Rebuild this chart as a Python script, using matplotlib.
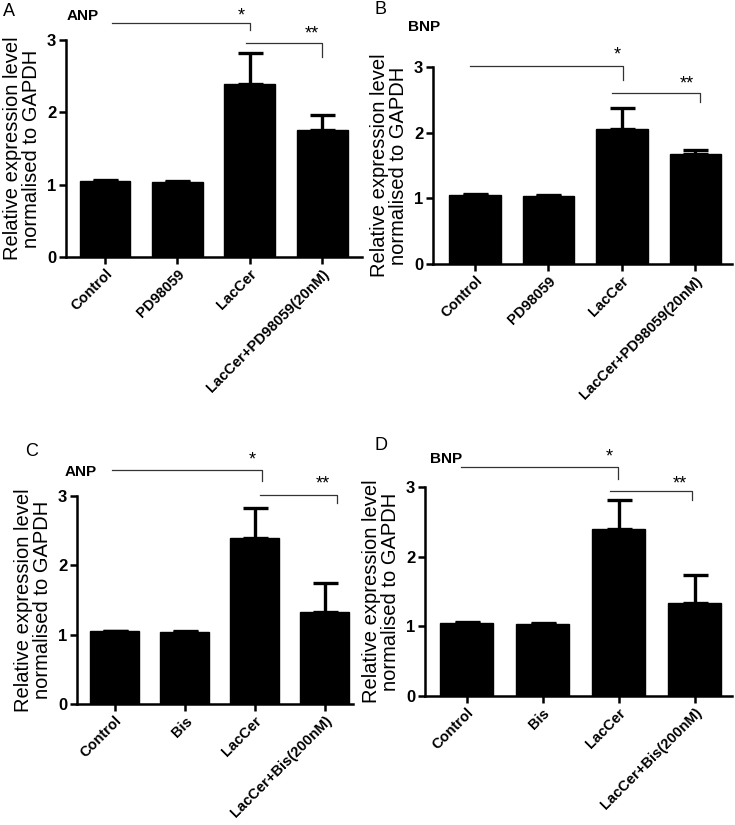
import matplotlib
matplotlib.use("Agg")
import matplotlib.pyplot as plt

plt.rcParams['font.family'] = ['Liberation Sans', 'DejaVu Sans']

# data
groups_pd = ['Control', 'PD98059', 'LacCer', 'LacCer+PD98059(20nM)']
groups_bis = ['Control', 'Bis', 'LacCer', 'LacCer+Bis(200nM)']

anp_pd = [1.05, 1.04, 2.39, 1.76]
anp_pd_err = [0.01, 0.01, 0.43, 0.20]
bnp_pd = [1.05, 1.04, 2.05, 1.68]
bnp_pd_err = [0.01, 0.01, 0.33, 0.05]
anp_bis = [1.05, 1.04, 2.40, 1.33]
anp_bis_err = [0.01, 0.01, 0.42, 0.42]
bnp_bis = [1.05, 1.04, 2.39, 1.33]
bnp_bis_err = [0.01, 0.01, 0.42, 0.41]

ylab = 'Relative expression level\nnormalised to GAPDH'

# panel layout: rect (px), xlim, letter pos (px), gene label pos (px), brackets
panels = [
    dict(rect=[66, 362, 40, 257], xlim=(-0.54, 3.55), names=groups_pd, vals=anp_pd, err=anp_pd_err,
         letter=('A', 3, 11), gene=('ANP', 67, 16),
         br=[(0.10, 2.00, 3.24, 3.14, 1.875, 3.33, '*'), (1.95, 3.00, 2.96, 2.77, 2.85, 3.08, '**')]),
    dict(rect=[433, 732, 67, 264], xlim=(-0.57, 3.5), names=groups_pd, vals=bnp_pd, err=bnp_pd_err,
         letter=('B', 374, 9), gene=('BNP', 408, 27),
         br=[(-0.07, 2.02, 3.01, 2.80, 1.94, 3.19, '*'), (1.87, 3.07, 2.60, 2.47, 2.88, 2.74, '**')]),
    dict(rect=[77, 353, 496, 704], xlim=(-0.54, 3.4), names=groups_bis, vals=anp_bis, err=anp_bis_err,
         letter=('C', 25, 452), gene=('ANP', 65, 472),
         br=[(-0.04, 2.10, 3.37, 3.21, 1.96, 3.52, '*'), (2.07, 3.17, 3.02, 2.90, 2.97, 3.17, '**')]),
    dict(rect=[425, 732, 487, 696], xlim=(-0.55, 3.49), names=groups_bis, vals=bnp_bis, err=bnp_bis_err,
         letter=('D', 375, 445), gene=('BNP', 430, 459),
         br=[(-0.07, 1.99, 3.29, 3.12, 1.87, 3.43, '*'), (1.88, 2.96, 2.94, 2.82, 2.80, 3.05, '**')]),
]

W, H = 735, 825
fig = plt.figure(figsize=(W / 100, H / 100), dpi=100)

for p in panels:
    l, r, t, b = p['rect']
    ax = fig.add_axes([l / W, 1 - b / H, (r - l) / W, (b - t) / H])
    x = range(len(p['vals']))
    ax.bar(x, p['vals'], width=0.7, color='black', edgecolor='black', zorder=2)
    ax.errorbar(x, p['vals'], yerr=[[0] * 4, p['err']], fmt='none', ecolor='black',
                elinewidth=2.4, capsize=9, capthick=2.4, zorder=1)
    ax.set_xlim(*p['xlim'])
    ax.set_ylim(0, 3)
    ax.set_yticks([0, 1, 2, 3])
    ax.set_xticks(list(x))
    ax.set_xticklabels(p['names'], rotation=45, ha='right', rotation_mode='anchor',
                       fontsize=10.5, fontweight='bold')
    for lab in ax.get_yticklabels():
        lab.set_fontweight('bold')
        lab.set_fontsize(12)
    ax.spines['top'].set_visible(False)
    ax.spines['right'].set_visible(False)
    ax.spines['left'].set_linewidth(1.8)
    ax.spines['bottom'].set_linewidth(1.8)
    ax.tick_params(axis='both', direction='out', length=5, width=1.8, pad=2)
    ax.set_ylabel(ylab, fontsize=14.5, labelpad=4, linespacing=1.0)

    for x1, x2, yl, yd, xs, ys, s in p['br']:
        ax.plot([x1, x2, x2], [yl, yl, yd], color='#333333', lw=0.9, clip_on=False)
        ax.text(xs, ys, s, ha='center', va='center', fontsize=13, clip_on=False)

    letter, lx, ly = p['letter']
    fig.text(lx / W, 1 - ly / H, letter, fontsize=13, ha='left', va='center')
    gene, gx, gy = p['gene']
    fig.text(gx / W, 1 - gy / H, gene, fontsize=11, fontweight='bold', ha='left', va='center')

fig.savefig('out.png', dpi=100)
